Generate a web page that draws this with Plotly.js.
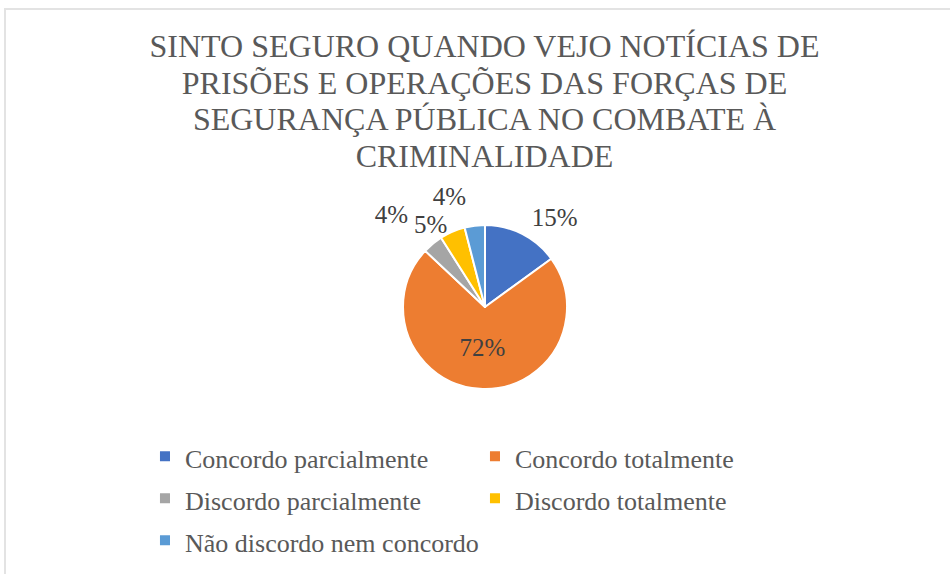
<!DOCTYPE html>
<html>
<head>
<meta charset="utf-8">
<script src="https://cdn.plot.ly/plotly-3.0.1.min.js"></script>
<style>
html,body{margin:0;padding:0;background:#fff;}
#wrap{position:relative;width:950px;height:574px;}
#chart{width:950px;height:574px;}
#frame{position:absolute;left:4px;top:8px;right:-2px;bottom:-2px;border-top:2px solid #e3e3e3;border-left:2px solid #e3e3e3;pointer-events:none;}
</style>
</head>
<body>
<div id="wrap"><div id="chart"></div><div id="frame"></div></div>
<script>
// ---- data ----
const categories = ["Concordo parcialmente", "Concordo totalmente", "Discordo parcialmente", "Discordo totalmente", "Não discordo nem concordo"];
const values = [15, 72, 4, 5, 4];
const colors = ["#4472C4", "#ED7D31", "#A5A5A5", "#FFC000", "#5B9BD5"];
const titleLines = ["SINTO SEGURO QUANDO VEJO NOTÍCIAS DE", "PRISÕES E OPERAÇÕES DAS FORÇAS DE", "SEGURANÇA PÚBLICA NO COMBATE À", "CRIMINALIDADE"];

// ---- layout helpers ----
const W = 950, H = 574;
const serif = "'Liberation Serif', 'Times New Roman', serif";
const CX = 485, CY = 307, R = 82;          // pie centre / radius in pixels
function domainFor(r) {
  return {x: [(CX - r) / W, (CX + r) / W], y: [(H - CY - r) / H, (H - CY + r) / H]};
}
const pctTpl = "%{percent:.0%}";
const labelFont = {family: serif, size: 25, color: "#404040"};
const legendLabels = categories.map(c => '<span style="font-size:26px">' + c + '</span>');
const titleText = titleLines.map(t => '<span style="font-size:32px">' + t + '</span>').join("<br>");

// main pie: slices + the inside label of the big slice
const main = {
  type: "pie",
  labels: legendLabels,
  values: values,
  sort: false,
  direction: "clockwise",
  rotation: 0,
  marker: {colors: colors, line: {color: "#ffffff", width: 2}},
  texttemplate: values.map((v, i) => (i === 1 ? pctTpl : "")),
  textposition: "inside",
  insidetextorientation: "horizontal",
  textfont: labelFont,
  insidetextfont: labelFont,
  domain: domainFor(R),
  hoverinfo: "skip",
  automargin: false
};

// label-only overlays (transparent, same values) so outside labels are not stacked
const labelRadii = {0: 88, 2: 110, 3: 78, 4: 98};
const overlays = Object.keys(labelRadii).map(k => {
  const idx = Number(k);
  return {
    type: "pie",
    labels: categories,
    values: values,
    sort: false,
    direction: "clockwise",
    rotation: 0,
    marker: {colors: values.map(() => "rgba(0,0,0,0)"), line: {width: 0}},
    texttemplate: values.map((v, i) => (i === idx ? pctTpl : "")),
    textposition: "outside",
    textfont: labelFont,
    outsidetextfont: labelFont,
    domain: domainFor(labelRadii[k]),
    showlegend: false,
    hoverinfo: "skip",
    automargin: false
  };
});

Plotly.newPlot("chart", [main].concat(overlays), {
  width: W,
  height: H,
  margin: {l: 0, r: 0, t: 0, b: 0},
  paper_bgcolor: "#ffffff",
  font: {family: serif, color: "#595959"},
  title: {
    text: titleText,
    font: {family: serif, size: 28, color: "#595959"},
    x: 0.51, xanchor: "center",
    y: 0.90, yanchor: "top", yref: "container"
  },
  showlegend: true,
  legend: {
    orientation: "h",
    x: 0.1526, xanchor: "left",
    y: 0.2505, yanchor: "top",
    entrywidth: 285,
    entrywidthmode: "pixels",
    font: {family: serif, size: 30, color: "#595959"},
    itemclick: false,
    itemdoubleclick: false
  }
}, {displayModeBar: false, staticPlot: true});
</script>
</body>
</html>
